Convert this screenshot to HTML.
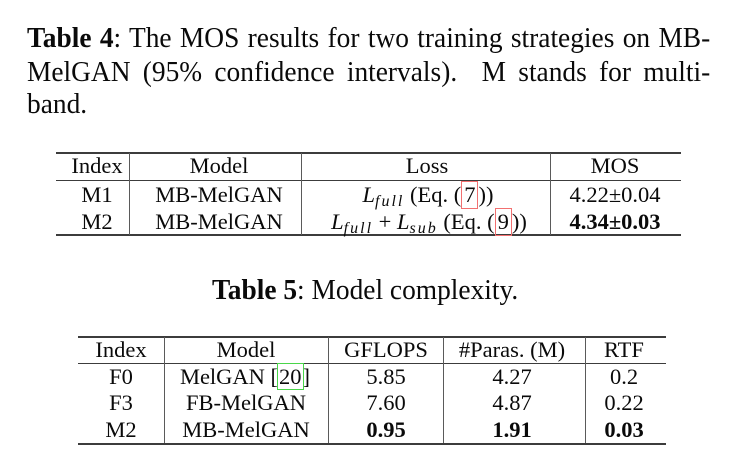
<!DOCTYPE html>
<html>
<head>
<meta charset="utf-8">
<style>
  html,body{margin:0;padding:0;}
  body{width:742px;height:468px;position:relative;background:#fff;overflow:hidden;
       font-family:"Liberation Serif","Times New Roman",serif;color:#0a0a0a;}
  .cap{position:absolute;font-size:29px;line-height:33px;transform:scaleX(0.945);transform-origin:0 0;}
  .j{left:27px;width:723px;text-align:justify;text-align-last:justify;}
  .r{position:absolute;background:#3c3c3c;}
  .v{position:absolute;background:#5a5a5a;width:1.2px;}
  .c{position:absolute;width:260px;margin-left:-130px;text-align:center;height:28px;line-height:28px;
     font-size:22.5px;white-space:nowrap;}
  .m{font-style:italic;}
  .sub{font-style:italic;font-size:16px;letter-spacing:2px;position:relative;top:4px;}
  .rb{display:inline-block;box-sizing:border-box;height:28px;line-height:26px;border:1px solid #f27070;padding:0 2px;vertical-align:top;}
  .gb{outline:1px solid #49d649;padding:0 1px;}
</style>
</head>
<body>

<!-- Table 4 caption -->
<div class="cap j" style="top:22px;"><b>Table 4</b>: The MOS results for two training strategies on MB-</div>
<div class="cap j" style="top:55.5px;">MelGAN (95% confidence intervals).&nbsp; M stands for multi-</div>
<div class="cap" style="top:88px;left:27px;">band.</div>

<!-- Table 4 rules -->
<div class="r" style="left:56px;top:152px;width:625px;height:2px;"></div>
<div class="r" style="left:56px;top:179.5px;width:625px;height:1.5px;"></div>
<div class="r" style="left:56px;top:234px;width:625px;height:2px;"></div>
<div class="v" style="left:129px;top:153px;height:82px;"></div>
<div class="v" style="left:301px;top:153px;height:82px;"></div>
<div class="v" style="left:550px;top:153px;height:82px;"></div>

<!-- Table 4 cells -->
<div class="c" style="left:97px;top:152px;">Index</div>
<div class="c" style="left:219px;top:152px;">Model</div>
<div class="c" style="left:427px;top:152px;">Loss</div>
<div class="c" style="left:615px;top:152px;">MOS</div>

<div class="c" style="left:97px;top:180.5px;">M1</div>
<div class="c" style="left:219px;top:180.5px;">MB-MelGAN</div>
<div class="c" style="left:428px;top:180.5px;"><span class="m">L</span><span class="sub">full</span> (Eq. (<span class="rb">7</span>))</div>
<div class="c" style="left:615px;top:180.5px;">4.22±0.04</div>

<div class="c" style="left:97px;top:208px;">M2</div>
<div class="c" style="left:219px;top:208px;">MB-MelGAN</div>
<div class="c" style="left:429px;top:208px;"><span class="m">L</span><span class="sub">full</span> + <span class="m">L</span><span class="sub">sub</span> (Eq. (<span class="rb">9</span>))</div>
<div class="c" style="left:615px;top:208px;"><b>4.34±0.03</b></div>

<!-- Table 5 caption -->
<div class="cap" style="top:274px;left:212px;white-space:nowrap;"><b>Table 5</b>: Model complexity.</div>

<!-- Table 5 rules -->
<div class="r" style="left:78px;top:335.5px;width:588px;height:2px;"></div>
<div class="r" style="left:78px;top:362.5px;width:588px;height:1.5px;"></div>
<div class="r" style="left:78px;top:442.5px;width:588px;height:2px;"></div>
<div class="v" style="left:164px;top:337px;height:106px;"></div>
<div class="v" style="left:328px;top:337px;height:106px;"></div>
<div class="v" style="left:443px;top:337px;height:106px;"></div>
<div class="v" style="left:585px;top:337px;height:106px;"></div>

<!-- Table 5 cells -->
<div class="c" style="left:121px;top:335.5px;">Index</div>
<div class="c" style="left:246px;top:335.5px;">Model</div>
<div class="c" style="left:386px;top:335.5px;">GFLOPS</div>
<div class="c" style="left:512px;top:335.5px;">#Paras. (M)</div>
<div class="c" style="left:624px;top:335.5px;">RTF</div>

<div class="c" style="left:121px;top:362.5px;">F0</div>
<div class="c" style="left:245px;top:362.5px;">MelGAN [<span class="gb">20</span>]</div>
<div class="c" style="left:386px;top:362.5px;">5.85</div>
<div class="c" style="left:512px;top:362.5px;">4.27</div>
<div class="c" style="left:624px;top:362.5px;">0.2</div>

<div class="c" style="left:121px;top:389px;">F3</div>
<div class="c" style="left:246px;top:389px;">FB-MelGAN</div>
<div class="c" style="left:386px;top:389px;">7.60</div>
<div class="c" style="left:512px;top:389px;">4.87</div>
<div class="c" style="left:624px;top:389px;">0.22</div>

<div class="c" style="left:121px;top:416px;">M2</div>
<div class="c" style="left:246px;top:416px;">MB-MelGAN</div>
<div class="c" style="left:386px;top:416px;"><b>0.95</b></div>
<div class="c" style="left:512px;top:416px;"><b>1.91</b></div>
<div class="c" style="left:624px;top:416px;"><b>0.03</b></div>

</body>
</html>
